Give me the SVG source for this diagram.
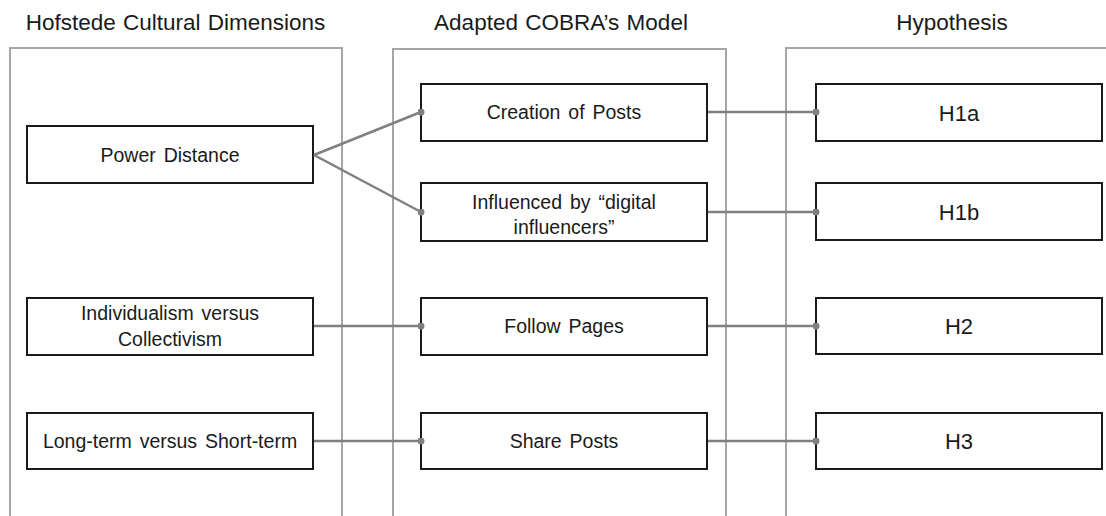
<svg xmlns="http://www.w3.org/2000/svg" width="1106" height="516" viewBox="0 0 1106 516">
<style>
.title{font-family:"Liberation Sans",Arial,sans-serif;font-size:22.5px;fill:#1a1a1a;text-anchor:middle;word-spacing:1px}
.lbl{font-family:"Liberation Sans",Arial,sans-serif;font-size:19.5px;fill:#1a1a1a;text-anchor:middle;word-spacing:2.5px}
.hl{font-family:"Liberation Sans",Arial,sans-serif;font-size:22px;fill:#1a1a1a;text-anchor:middle}
.panel{fill:none;stroke:#a6a6a6;stroke-width:2}
.box{fill:#fff;stroke:#1a1a1a;stroke-width:2}
.conn{fill:none;stroke:#808080;stroke-width:2.5;marker-end:url(#dot)}
</style>
<defs>
<marker id="dot" viewBox="0 0 10 10" refX="5" refY="5" markerWidth="2.8" markerHeight="2.8" markerUnits="strokeWidth">
<circle cx="5" cy="5" r="5" fill="#808080"/>
</marker>
</defs>
<rect width="1106" height="516" fill="#fff"/>
<g id="panels">
<g id="panel-hofstede">
<path class="panel" d="M10,520 V48 H342 V520"/>
<text class="title" x="175.5" y="30">Hofstede Cultural Dimensions</text>
</g>
<g id="panel-cobra">
<path class="panel" d="M393,520 V49 H726 V520"/>
<text class="title" x="561" y="30">Adapted COBRA’s Model</text>
</g>
<g id="panel-hypothesis">
<path class="panel" d="M786,520 V48 H1110"/>
<text class="title" x="952" y="30">Hypothesis</text>
</g>
</g>
<g id="node-power-distance">
<rect class="box" x="27" y="126" width="286" height="57"/>
<text class="lbl" x="170" y="162">Power Distance</text>
</g>
<g id="node-individualism">
<rect class="box" x="27" y="298" width="286" height="57"/>
<text class="lbl" x="170" y="320">Individualism versus</text>
<text class="lbl" x="170" y="346">Collectivism</text>
</g>
<g id="node-long-term">
<rect class="box" x="27" y="413" width="286" height="56"/>
<text class="lbl" x="170" y="448">Long-term versus Short-term</text>
</g>
<g id="node-creation">
<rect class="box" x="421" y="84" width="286" height="57"/>
<text class="lbl" x="564" y="119">Creation of Posts</text>
</g>
<g id="node-influenced">
<rect class="box" x="421" y="183" width="286" height="58"/>
<text class="lbl" x="564" y="209">Influenced by “digital</text>
<text class="lbl" x="564" y="234">influencers”</text>
</g>
<g id="node-follow">
<rect class="box" x="421" y="298" width="286" height="57"/>
<text class="lbl" x="564" y="333">Follow Pages</text>
</g>
<g id="node-share">
<rect class="box" x="421" y="413" width="286" height="56"/>
<text class="lbl" x="564" y="448">Share Posts</text>
</g>
<g id="node-h1a">
<rect class="box" x="816" y="84" width="286" height="57"/>
<text class="hl" x="959" y="121">H1a</text>
</g>
<g id="node-h1b">
<rect class="box" x="816" y="183" width="286" height="57"/>
<text class="hl" x="959" y="220">H1b</text>
</g>
<g id="node-h2">
<rect class="box" x="816" y="298" width="286" height="56"/>
<text class="hl" x="959" y="334">H2</text>
</g>
<g id="node-h3">
<rect class="box" x="816" y="413" width="286" height="56"/>
<text class="hl" x="959" y="449">H3</text>
</g>
<g id="connectors">
<path class="conn" d="M314,155 L421,112"/>
<path class="conn" d="M314,155 L421,212"/>
<path class="conn" d="M314,326 H421"/>
<path class="conn" d="M314,441 H421"/>
<path class="conn" d="M708,112 H816"/>
<path class="conn" d="M708,212 H816"/>
<path class="conn" d="M708,326 H816"/>
<path class="conn" d="M708,441 H816"/>
</g>
</svg>
